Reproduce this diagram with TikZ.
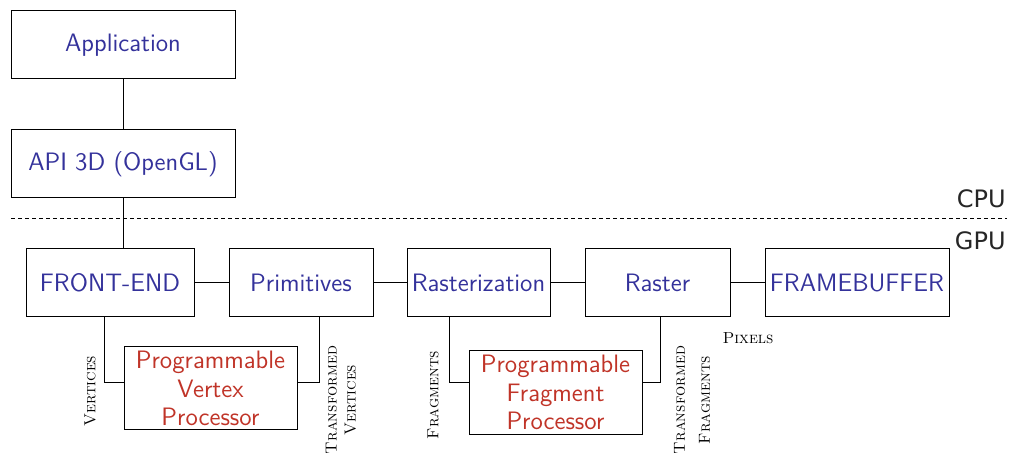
\documentclass[tikz,border=0pt]{standalone}
\usepackage{fontspec}
\newfontfamily\unitfont{DejaVu Sans}
\definecolor{stageblue}{RGB}{52,50,155}
\definecolor{progred}{RGB}{192,52,40}
\newcommand{\stagesize}{\fontsize{12.6}{14.2}\selectfont}
\begin{document}
\begin{tikzpicture}
  [x=0.5pt, y=-0.5pt,
   stage/.style = {draw, line width=0.5pt, inner sep=0pt, minimum height=34pt,
                   text=stageblue, font=\sffamily\stagesize},
   prog/.style  = {draw, line width=0.5pt, inner sep=0pt, minimum width=86.5pt,
                   minimum height=41.5pt, align=center, text=progred, font=\sffamily\stagesize},
   flow/.style  = {font=\footnotesize\scshape, rotate=90, align=center, inner sep=0pt},
   unit/.style  = {anchor=east, inner sep=0pt, text=black!85, font=\unitfont\large}]
  \useasboundingbox (0,0) rectangle (1013,453);

  % CPU side
  \node[stage, minimum width=112pt] (app) at (123,45) {Application};
  \node[stage, minimum width=112pt] (api) at (123,164) {API 3D (OpenGL)};

  % split between CPU and GPU
  \coordinate (sl) at (11,219);
  \coordinate (sr) at (1007,219);
  \draw[dashed, line width=0.5pt, dash pattern=on 2pt off 1.5pt] (sl) -- (sr);
  \node[unit] (cpu) at (1006,199) {CPU};
  \node[unit] (gpu) at (1006,241) {GPU};

  % GPU pipeline
  \node[stage, minimum width=84pt] (fe) at (110,283) {FRONT-END};
  \node[stage, minimum width=72pt] (prim) at (301,283) {Primitives};
  \node[stage, minimum width=71.5pt] (rast) at (478.5,283) {Rasterization};
  \node[stage, minimum width=72.5pt] (rop) at (657.5,283) {Raster};
  \node[stage, minimum width=92pt] (fb) at (857,283) {FRAMEBUFFER};

  \node[prog] (vp) at (210.5,388.5) {Programmable\\Vertex\\Processor};
  \node[prog, minimum height=42pt] (fp) at (555.5,392.5) {Programmable\\Fragment\\Processor};

  \node[flow] (vin) at (90,391) {Vertices};
  \node[flow] (vout) at (341,400) {Transformed\\Vertices};
  \node[flow] (fin) at (433,395) {Fragments};
  \node[flow] (fout) at (692,400) {Transformed\\[3pt]Fragments};
  \node[font=\footnotesize\scshape, inner sep=0pt] (pix) at (748,338) {Pixels};

  \begin{scope}[line width=0.5pt]
    \draw (app) -- (api);
    \draw (api) -- (api.south |- fe.north);
    \draw (fe) -- (prim);
    \draw (prim) -- (rast);
    \draw (rast) -- (rop);
    \draw (rop) -- (fb);
    \draw ([xshift=-3pt]fe.south) |- ([yshift=2.75pt]vp.west);
    \draw ([yshift=2.75pt]vp.east) -| ([xshift=9pt]prim.south);
    \draw ([xshift=-14.75pt]rast.south) |- ([yshift=4.75pt]fp.west);
    \draw ([yshift=4.75pt]fp.east) -| ([xshift=1.5pt]rop.south);
  \end{scope}
\end{tikzpicture}
\end{document}
